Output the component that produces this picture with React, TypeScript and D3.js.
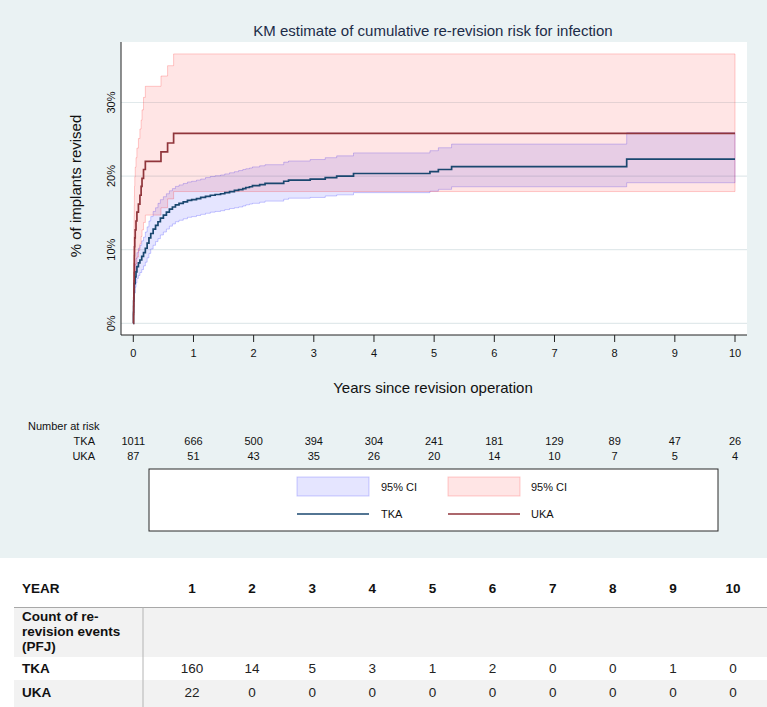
import React from 'react';
import * as d3 from 'd3';

// ---- data -------------------------------------------------------------
// Kaplan–Meier cumulative re-revision (%) with 95% CI, by implant type.
const tkaTime = [0, 0.003, 0.006, 0.01, 0.017, 0.03, 0.045, 0.06, 0.085, 0.11, 0.14, 0.17, 0.2, 0.23, 0.26, 0.29, 0.33, 0.37, 0.41, 0.45, 0.5, 0.55, 0.6, 0.65, 0.7, 0.76, 0.83, 0.9, 0.97, 1.05, 1.12, 1.2, 1.28, 1.36, 1.45, 1.52, 1.6, 1.68, 1.75, 1.82, 1.87, 1.93, 1.98, 2.1, 2.19, 2.5, 2.58, 2.94, 3.19, 3.38, 3.66, 4.93, 5.07, 5.29, 8.2, 10];
const tkaEst = [0, 1.5, 3.0, 4.2, 5.4, 6.3, 7.0, 7.7, 8.2, 8.6, 9.1, 9.6, 10.2, 10.9, 11.6, 12.2, 12.8, 13.3, 13.8, 14.3, 14.7, 15.1, 15.5, 15.8, 16.1, 16.3, 16.5, 16.7, 16.8, 16.95, 17.1, 17.25, 17.4, 17.5, 17.6, 17.75, 17.9, 18.05, 18.15, 18.3, 18.45, 18.55, 18.7, 18.85, 19.0, 19.3, 19.45, 19.6, 19.8, 20.0, 20.35, 20.6, 20.9, 21.3, 22.3, 22.3];
const tkaLo = [0, 0.9, 2.1, 3.1, 4.1, 4.9, 5.5, 6.1, 6.5, 6.9, 7.3, 7.8, 8.3, 8.9, 9.5, 10.1, 10.6, 11.1, 11.5, 12.0, 12.4, 12.8, 13.2, 13.5, 13.8, 14.0, 14.2, 14.4, 14.5, 14.65, 14.8, 14.95, 15.1, 15.2, 15.3, 15.45, 15.6, 15.7, 15.8, 15.95, 16.1, 16.2, 16.3, 16.45, 16.6, 16.85, 17.0, 17.1, 17.3, 17.45, 17.75, 17.95, 18.2, 18.55, 19.1, 19.1];
const tkaHi = [0, 2.4, 4.2, 5.6, 7.0, 8.0, 8.8, 9.6, 10.2, 10.6, 11.2, 11.7, 12.4, 13.1, 13.9, 14.5, 15.2, 15.7, 16.3, 16.8, 17.2, 17.6, 18.0, 18.3, 18.6, 18.8, 19.0, 19.2, 19.3, 19.45, 19.6, 19.8, 19.95, 20.05, 20.15, 20.3, 20.45, 20.6, 20.75, 20.9, 21.0, 21.1, 21.25, 21.4, 21.55, 21.9, 22.05, 22.25, 22.5, 22.75, 23.15, 23.45, 23.85, 24.35, 25.9, 25.9];

const ukaTime = [0, 0.004, 0.006, 0.008, 0.01, 0.012, 0.014, 0.016, 0.018, 0.02, 0.025, 0.032, 0.045, 0.06, 0.085, 0.11, 0.13, 0.145, 0.17, 0.2, 0.46, 0.57, 0.67, 10];
const ukaEst = [0, 1.2, 2.3, 3.5, 4.6, 5.8, 6.9, 8.1, 9.2, 10.4, 11.6, 12.7, 13.9, 15.1, 16.2, 17.4, 18.6, 19.7, 20.9, 22.0, 23.3, 24.5, 25.8, 25.8];
const ukaLo = [0, 0.2, 0.6, 1.1, 1.7, 2.4, 3.2, 3.9, 4.7, 5.5, 6.3, 7.2, 8.1, 9.0, 9.9, 10.8, 11.8, 12.7, 13.7, 14.7, 15.7, 16.9, 17.9, 17.9];
const ukaHi = [0, 7.9, 8.9, 10.4, 11.8, 13.2, 14.6, 16.0, 17.3, 18.6, 19.9, 21.2, 22.5, 23.8, 25.1, 26.4, 27.6, 29.0, 30.7, 32.2, 33.6, 35.0, 36.6, 36.6];

const yearTicks = [0, 1, 2, 3, 4, 5, 6, 7, 8, 9, 10];
const pctTicks = [0, 10, 20, 30];

const riskLabels = ['TKA', 'UKA'];
const tkaAtRisk = [1011, 666, 500, 394, 304, 241, 181, 129, 89, 47, 26];
const ukaAtRisk = [87, 51, 43, 35, 26, 20, 14, 10, 7, 5, 4];

const tableYears = [1, 2, 3, 4, 5, 6, 7, 8, 9, 10];
const tkaEvents = [160, 14, 5, 3, 1, 2, 0, 0, 1, 0];
const ukaEvents = [22, 0, 0, 0, 0, 0, 0, 0, 0, 0];

// ---- styling ----------------------------------------------------------
const FONT = '"Liberation Sans", Arial, Helvetica, sans-serif';
const BG = '#eaf2f3';
const GRID = '#e1e9eb';
const NAVY = '#1a476f';
const MAROON = '#90353b';
const BLUE_FILL = 'rgba(0,0,255,0.10)';
const BLUE_EDGE = 'rgba(0,0,255,0.20)';
const RED_FILL = 'rgba(255,0,0,0.10)';
const RED_EDGE = 'rgba(255,0,0,0.20)';

const W = 767;
const H = 707;
const plot = { left: 121, right: 747, top: 42, bottom: 335 };

type Pt = { t: number; v: number; lo: number; hi: number };
const zip = (t: number[], v: number[], lo: number[], hi: number[]): Pt[] =>
  t.map((tt, i) => ({ t: tt, v: v[i], lo: lo[i], hi: hi[i] }));

export default function App() {
  const x = d3.scaleLinear().domain([0, 10]).range([133.3, 735]);
  const y = d3.scaleLinear().domain([0, 30]).range([323.3, 102.5]);
  const col = d3.scaleLinear().domain([1, 10]).range([192, 733]);

  const tka = zip(tkaTime, tkaEst, tkaLo, tkaHi);
  const uka = zip(ukaTime, ukaEst, ukaLo, ukaHi);

  const line = d3
    .line<Pt>()
    .x((d) => x(d.t))
    .y((d) => y(d.v))
    .curve(d3.curveStepAfter);
  const band = d3
    .area<Pt>()
    .x((d) => x(d.t))
    .y0((d) => y(d.lo))
    .y1((d) => y(d.hi))
    .curve(d3.curveStepAfter);

  const atRisk = [tkaAtRisk, ukaAtRisk];
  const events = [tkaEvents, ukaEvents];

  return (
    <svg
      width={W}
      height={H}
      style={{ position: 'absolute', left: 0, top: 0, fontFamily: FONT }}
    >
      <rect x={0} y={0} width={W} height={H} fill="#ffffff" />
      <rect x={0} y={0} width={W} height={558} fill={BG} />

      {/* title */}
      <text x={433} y={35.5} textAnchor="middle" fontSize={15} fill="#1c2c48">
        KM estimate of cumulative re-revision risk for infection
      </text>

      {/* plot region */}
      <rect
        x={plot.left}
        y={plot.top}
        width={plot.right - plot.left}
        height={plot.bottom - plot.top}
        fill="#ffffff"
      />
      {pctTicks.map((p) => (
        <line
          key={p}
          x1={plot.left}
          x2={plot.right}
          y1={y(p)}
          y2={y(p)}
          stroke={GRID}
          strokeWidth={1.2}
        />
      ))}

      {/* confidence bands */}
      <path d={band(tka) || ''} fill={BLUE_FILL} stroke={BLUE_EDGE} strokeWidth={1} />
      <path d={band(uka) || ''} fill={RED_FILL} stroke={RED_EDGE} strokeWidth={1} />

      {/* KM estimates */}
      <path d={line(tka) || ''} fill="none" stroke={NAVY} strokeWidth={1.7} />
      <path d={line(uka) || ''} fill="none" stroke={MAROON} strokeWidth={1.7} />

      {/* axes */}
      <line x1={plot.left} x2={plot.left} y1={plot.top} y2={plot.bottom} stroke="#222" strokeWidth={1} />
      <line x1={plot.left} x2={plot.right} y1={plot.bottom} y2={plot.bottom} stroke="#222" strokeWidth={1} />
      {yearTicks.map((t) => (
        <g key={t}>
          <line x1={x(t)} x2={x(t)} y1={plot.bottom} y2={plot.bottom + 7} stroke="#222" strokeWidth={1} />
          <text x={x(t)} y={357} textAnchor="middle" fontSize={11} fill="#111">
            {t}
          </text>
        </g>
      ))}
      {pctTicks.map((p) => (
        <text
          key={p}
          transform={`translate(115,${y(p)}) rotate(-90)`}
          textAnchor="middle"
          fontSize={11}
          fill="#111"
        >
          {p}%
        </text>
      ))}
      <text transform="translate(81,186) rotate(-90)" textAnchor="middle" fontSize={15} fill="#111">
        % of implants revised
      </text>
      <text x={433} y={392.5} textAnchor="middle" fontSize={15} fill="#111">
        Years since revision operation
      </text>

      {/* number at risk */}
      <text x={28} y={430} fontSize={11} fill="#111">
        Number at risk
      </text>
      {riskLabels.map((lab, r) => (
        <g key={lab}>
          <text x={95} y={445 + r * 15} textAnchor="end" fontSize={11} fill="#111">
            {lab}
          </text>
          {atRisk[r].map((n, i) => (
            <text key={i} x={x(yearTicks[i])} y={445 + r * 15} textAnchor="middle" fontSize={11} fill="#111">
              {n}
            </text>
          ))}
        </g>
      ))}

      {/* legend */}
      <rect x={149} y={469} width={569} height={62} fill="#ffffff" stroke="#2b2b2b" strokeWidth={1} />
      <rect x={297} y={477} width={72} height={19} fill={BLUE_FILL} stroke={BLUE_EDGE} />
      <text x={381} y={491} fontSize={11} fill="#111">95% CI</text>
      <rect x={448} y={477} width={72} height={19} fill={RED_FILL} stroke={RED_EDGE} />
      <text x={531} y={491} fontSize={11} fill="#111">95% CI</text>
      <line x1={297} x2={369} y1={514} y2={514} stroke={NAVY} strokeWidth={1.7} />
      <text x={381} y={518} fontSize={11} fill="#111">TKA</text>
      <line x1={448} x2={520} y1={514} y2={514} stroke={MAROON} strokeWidth={1.7} />
      <text x={531} y={518} fontSize={11} fill="#111">UKA</text>

      {/* event count table */}
      <rect x={14} y={607.5} width={W - 14} height={49.5} fill="#f2f2f2" />
      <rect x={14} y={680} width={W - 14} height={H - 680} fill="#f2f2f2" />
      <line x1={14} x2={W} y1={607.5} y2={607.5} stroke="#a8a8a8" strokeWidth={1.2} />
      <line x1={143} x2={143} y1={607.5} y2={H} stroke="#b4b4b4" strokeWidth={1} />

      <text x={22} y={593} fontSize={13.5} fontWeight="bold" fill="#111">YEAR</text>
      {tableYears.map((yr) => (
        <text key={yr} x={col(yr)} y={593} textAnchor="middle" fontSize={13.5} fontWeight="bold" fill="#111">
          {yr}
        </text>
      ))}
      <text x={22} y={621} fontSize={13.5} fontWeight="bold" fill="#111">Count of re-</text>
      <text x={22} y={636} fontSize={13.5} fontWeight="bold" fill="#111">revision events</text>
      <text x={22} y={651} fontSize={13.5} fontWeight="bold" fill="#111">(PFJ)</text>
      {riskLabels.map((lab, r) => (
        <g key={lab}>
          <text x={22} y={673 + r * 24} fontSize={13.5} fontWeight="bold" fill="#111">
            {lab}
          </text>
          {events[r].map((n, i) => (
            <text key={i} x={col(tableYears[i])} y={673 + r * 24} textAnchor="middle" fontSize={13.5} fill="#222">
              {n}
            </text>
          ))}
        </g>
      ))}
    </svg>
  );
}
